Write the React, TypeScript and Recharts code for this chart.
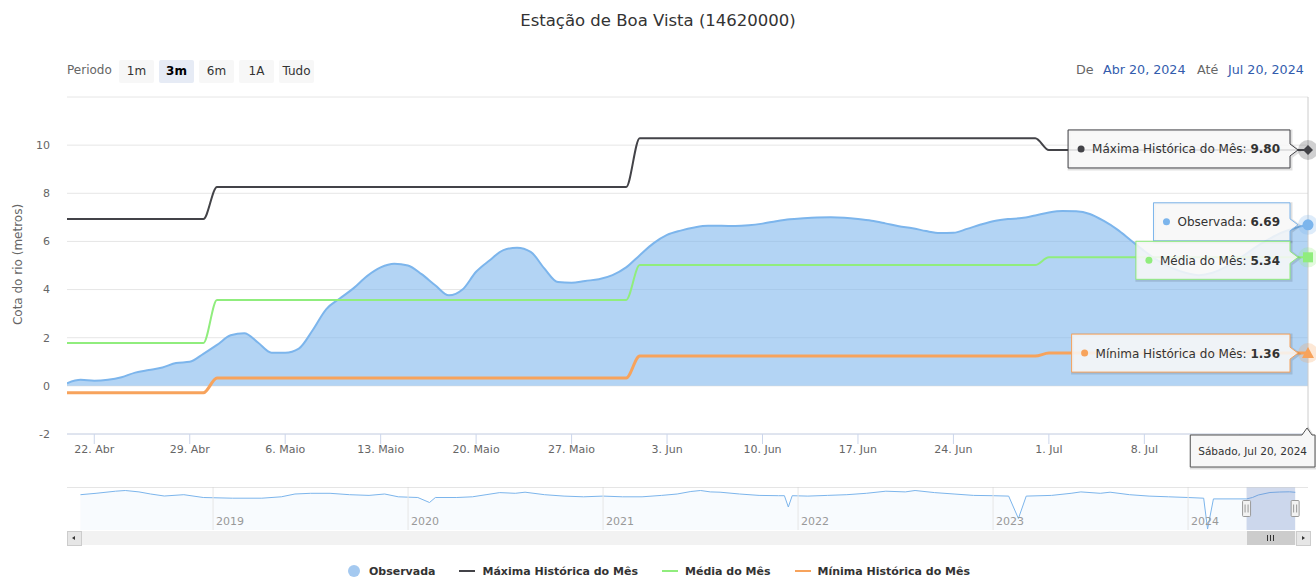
import React from 'react';
import {
  ComposedChart,
  Area,
  Line,
  XAxis,
  YAxis,
  CartesianGrid,
  ReferenceLine,
  ReferenceDot,
  ReferenceArea,
} from 'recharts';

const FONT = '"DejaVu Sans", "Lucida Grande", Arial, sans-serif';

// ---- data ----------------------------------------------------------------

// daily observed level (m), 20 Abr 2024 -> 20 Jul 2024
const observada = [
  0.11, 0.25, 0.21, 0.25, 0.36, 0.55, 0.66, 0.76, 0.95, 1.0,
  1.33, 1.7, 2.1, 2.19, 1.8, 1.38, 1.38, 1.55, 2.3, 3.18,
  3.63, 4.05, 4.56, 4.92, 5.07, 5.0, 4.64, 4.18, 3.76, 4.0,
  4.74, 5.22, 5.64, 5.74, 5.57, 4.88, 4.31, 4.28, 4.36, 4.43,
  4.6, 4.92, 5.43, 5.92, 6.27, 6.45, 6.58, 6.65, 6.65, 6.64,
  6.67, 6.74, 6.84, 6.92, 6.96, 6.99, 7.0, 6.98, 6.93, 6.86,
  6.75, 6.63, 6.55, 6.43, 6.35, 6.36, 6.52, 6.7, 6.85, 6.93,
  6.97, 7.08, 7.2, 7.26, 7.25, 7.14, 6.86, 6.5, 6.05, 5.6,
  5.2, 4.9, 4.7, 4.6, 4.7, 4.95, 5.3, 5.7, 6.05, 6.35,
  6.55, 6.69,
];

// monthly reference values: Abr, Mai, Jun, Jul
const maximaMes = [6.93, 8.26, 10.29, 9.8];
const mediaMes = [1.78, 3.57, 5.02, 5.34];
const minimaMes = [-0.29, 0.33, 1.24, 1.36];

// the 15. Jul tick sits under the date tooltip, its label is not visible
const xTickDays = [2, 9, 16, 23, 30, 37, 44, 51, 58, 65, 72, 79, 86];
const xTickLabels = [
  '22. Abr', '29. Abr', '6. Maio', '13. Maio', '20. Maio', '27. Maio',
  '3. Jun', '10. Jun', '17. Jun', '24. Jun', '1. Jul', '8. Jul', '',
];
const yTicks = [-2, 0, 2, 4, 6, 8, 10, 12];

// navigator (whole record), decimal year / level
const navAnos = [
  2018.32, 2018.4, 2018.5, 2018.55, 2018.62, 2018.68, 2018.75, 2018.85, 2018.95,
  2019.1, 2019.25, 2019.35, 2019.42, 2019.5, 2019.6, 2019.7, 2019.8, 2019.88, 2019.95,
  2020.05, 2020.11, 2020.14, 2020.25, 2020.33, 2020.4, 2020.47, 2020.55, 2020.6, 2020.7,
  2020.8, 2020.9, 2021.0, 2021.1, 2021.2, 2021.3, 2021.38, 2021.45, 2021.5, 2021.55,
  2021.6, 2021.7, 2021.8, 2021.9, 2021.93, 2021.95, 2021.97, 2022.05, 2022.15, 2022.25,
  2022.35, 2022.45, 2022.55, 2022.6, 2022.7, 2022.8, 2022.9, 2023.0, 2023.08, 2023.13,
  2023.17, 2023.3, 2023.4, 2023.45, 2023.55, 2023.6, 2023.7, 2023.8, 2023.9, 2024.0,
  2024.08, 2024.1, 2024.13, 2024.3, 2024.33, 2024.36, 2024.42, 2024.47, 2024.52, 2024.55,
];
const navCota = [
  4.3, 5.7, 7.8, 8.5, 7.1, 5.0, 3.0, 4.3, 1.5,
  0.8, 0.8, 2.2, 5.0, 5.7, 5.7, 4.3, 3.6, 5.0, 2.2,
  1.5, -3.5, 1.5, 1.5, 2.2, 4.3, 6.4, 5.7, 6.8, 4.3,
  2.9, 2.2, 2.9, 2.2, 2.2, 3.6, 5.0, 7.5, 8.5, 7.1,
  6.8, 5.0, 3.6, 3.3, 3.3, -8.0, 3.3, 2.9, 3.6, 4.3,
  5.7, 7.8, 7.1, 8.5, 6.4, 5.0, 3.6, 3.3, 2.9, -19.5,
  2.9, 3.6, 5.7, 7.1, 5.7, 6.8, 4.3, 2.9, 2.2, 1.5,
  0.8, -30.0, 0.1, 0.1, 1.5, 4.0, 6.5, 7.0, 7.2, 6.7,
];
const navYears = [2019, 2020, 2021, 2022, 2023, 2024];
const NAV_MIN = 2018.251;
const NAV_MAX = 2024.615;
const SEL_START = 2024.3;
const SEL_END = 2024.549;

const periodos = ['1m', '3m', '6m', '1A', 'Tudo'];
const periodoAtivo = '3m';

const series = [
  { key: 'obs', name: 'Observada', color: '#7cb5ec', symbol: 'circle' },
  { key: 'max', name: 'Máxima Histórica do Mês', color: '#434348', symbol: 'diamond' },
  { key: 'med', name: 'Média do Mês', color: '#90ed7d', symbol: 'square' },
  { key: 'min', name: 'Mínima Histórica do Mês', color: '#f7a35c', symbol: 'triangle' },
];
const tipOrder = ['max', 'obs', 'med', 'min'];
const tipShift: Record<string, number> = { max: -1, obs: -3, med: 3, min: 0 };

// ---- rows ------------------------------------------------------------------

const START = Date.UTC(2024, 3, 20);
const rows = observada.map((v, i) => {
  const m = new Date(START + i * 86400000).getUTCMonth() - 3;
  return { d: i, obs: v, max: maximaMes[m], med: mediaMes[m], min: minimaMes[m] };
});
const last = rows[rows.length - 1] as any;
const navRows = navAnos.map((t, i) => ({ t, v: navCota[i] }));

// ---- helpers ---------------------------------------------------------------

let ctx: CanvasRenderingContext2D | null = null;
function textW(s: string, font: string) {
  if (!ctx) ctx = document.createElement('canvas').getContext('2d');
  if (!ctx) return s.length * 7;
  ctx.font = font;
  return ctx.measureText(s).width;
}

function Marker({ cx, cy, color, symbol }: any) {
  let m: React.ReactNode = null;
  if (symbol === 'diamond') m = <path d={`M${cx},${cy - 5}L${cx + 5},${cy}L${cx},${cy + 5}L${cx - 5},${cy}Z`} fill={color} />;
  else if (symbol === 'circle') m = <circle cx={cx} cy={cy} r={5.5} fill={color} />;
  else if (symbol === 'square') m = <rect x={cx - 5} y={cy - 5} width={10} height={10} fill={color} />;
  else m = <path d={`M${cx},${cy - 6}L${cx + 6},${cy + 5}L${cx - 6},${cy + 5}Z`} fill={color} />;
  return (
    <g>
      <circle cx={cx} cy={cy} r={10} fill={color} fillOpacity={0.25} />
      {m}
    </g>
  );
}

function SeriesTip(props: any) {
  const { cx, cy, s } = props;
  if (cx == null || cy == null) return null;
  const label = s.name + ': ';
  const val = (last[s.key] as number).toFixed(2);
  const tw = textW(label, `12px ${FONT}`) + textW(val, `bold 12px ${FONT}`);
  const right = cx - 18;
  const left = right - (tw + 34);
  const mid = cy + (tipShift[s.key] || 0);
  const top = mid - 19;
  const bottom = mid + 19;
  const d = `M${left},${top}H${right}V${cy - 6}L${cx - 10},${cy}L${right},${cy + 6}V${bottom}H${left}Z`;
  return (
    <g>
      <path d={d} transform="translate(1,1)" fill="none" stroke="rgba(0,0,0,0.12)" strokeWidth={3} />
      <path d={d} fill="rgba(247,247,247,0.88)" stroke={s.color} strokeWidth={1} />
      <circle cx={left + 13} cy={mid} r={3.5} fill={s.color} />
      <text x={left + 24} y={mid + 4.5} fontSize={12} fontFamily={FONT} fill="#333">
        <tspan>{label}</tspan>
        <tspan fontWeight="bold">{val}</tspan>
      </text>
      <Marker cx={cx} cy={cy} color={s.color} symbol={s.symbol} />
    </g>
  );
}

function DateTip(props: any) {
  const { cx, cy } = props;
  if (cx == null || cy == null) return null;
  const txt = 'Sábado, Jul 20, 2024';
  const w = textW(txt, `10.5px ${FONT}`) + 16;
  const right = cx + 7;
  const left = right - w;
  const top = cy + 1;
  const bottom = cy + 33;
  const d = `M${left},${top}H${cx - 6}L${cx - 1},${top - 7}L${cx + 4},${top}H${right}V${bottom}H${left}Z`;
  return (
    <g>
      <path d={d} transform="translate(1,1)" fill="none" stroke="rgba(0,0,0,0.12)" strokeWidth={3} />
      <path d={d} fill="#f7f7f7" stroke="#555" strokeWidth={1} />
      <text x={left + 8} y={(top + bottom) / 2 + 4} fontSize={10.5} fontFamily={FONT} fill="#333">
        {txt}
      </text>
    </g>
  );
}

function Handle(props: any) {
  const { cx, cy } = props;
  if (cx == null || cy == null) return null;
  return (
    <g>
      <rect x={cx - 4} y={cy - 8} width={8} height={16} rx={1} fill="#f2f2f2" stroke="#999" />
      <line x1={cx - 1.5} x2={cx - 1.5} y1={cy - 4} y2={cy + 4} stroke="#999" />
      <line x1={cx + 1.5} x2={cx + 1.5} y1={cy - 4} y2={cy + 4} stroke="#999" />
    </g>
  );
}

function YearLabel(props: any) {
  const vb = props.viewBox || {};
  return (
    <text x={(vb.x || 0) + 3} y={(vb.y || 0) + (vb.height || 0) - 5} fontSize={11} fontFamily={FONT} fill="#999">
      {props.value}
    </text>
  );
}

function YTitle(props: any) {
  const vb = props.viewBox || {};
  const x = (vb.x || 0) + 18;
  const y = (vb.y || 0) + (vb.height || 0) / 2 - 1;
  return (
    <text x={x} y={y} transform={`rotate(-90 ${x} ${y})`} textAnchor="middle" dominantBaseline="central"
      fontSize={12} fontFamily={FONT} fill="#666">
      Cota do rio (metros)
    </text>
  );
}

const navX = (t: number) => 67 + ((t - NAV_MIN) / (NAV_MAX - NAV_MIN)) * 1241;

export default function App() {
  const byKey: Record<string, any> = {};
  series.forEach((s) => (byKey[s.key] = s));

  return (
    <div style={{ position: 'absolute', left: 0, top: 0, width: 1316, height: 577, background: '#fff', overflow: 'hidden', fontFamily: FONT }}>
      <div style={{ position: 'absolute', top: 11, left: 0, width: 1316, textAlign: 'center', fontSize: 16.5, color: '#333' }}>
        Estação de Boa Vista (14620000)
      </div>

      {/* range selector */}
      <div style={{ position: 'absolute', left: 67, top: 63, fontSize: 12, color: '#666' }}>Periodo</div>
      {periodos.map((p, i) => (
        <div key={p} style={{
          position: 'absolute', left: 119 + i * 40, top: 60, width: 35, height: 23, lineHeight: '23px',
          textAlign: 'center', fontSize: 12, borderRadius: 2,
          background: p === periodoAtivo ? '#e6ebf5' : '#f7f7f7',
          color: p === periodoAtivo ? '#000' : '#333', fontWeight: p === periodoAtivo ? 'bold' : 'normal',
        }}>{p}</div>
      ))}
      <div style={{ position: 'absolute', left: 1076, top: 62, fontSize: 12.7, color: '#666' }}>De</div>
      <div style={{ position: 'absolute', left: 1103, top: 62, fontSize: 12.7, color: '#335cad' }}>Abr 20, 2024</div>
      <div style={{ position: 'absolute', left: 1197, top: 62, fontSize: 12.7, color: '#666' }}>Até</div>
      <div style={{ position: 'absolute', left: 1228, top: 62, fontSize: 12.7, color: '#335cad' }}>Jul 20, 2024</div>

      {/* main chart */}
      <div style={{ position: 'absolute', left: 0, top: 0 }}>
        <ComposedChart width={1316} height={470} data={rows} margin={{ top: 97, right: 8, bottom: 6, left: 0 }}>
          <CartesianGrid vertical={false} stroke="#e6e6e6" />
          <XAxis
            dataKey="d" type="number" domain={[0, 91]} ticks={xTickDays} interval={0} allowDataOverflow
            tickFormatter={(v: number) => xTickLabels[xTickDays.indexOf(v)] || ''}
            height={30} tickSize={10} tickMargin={1}
            axisLine={{ stroke: '#ccd6eb' }} tickLine={{ stroke: '#ccd6eb' }}
            tick={{ fill: '#666', fontSize: 11, fontFamily: FONT }}
          />
          <YAxis
            domain={[-2, 12]} ticks={yTicks} interval={0} allowDataOverflow width={67}
            axisLine={false} tickLine={false} tickMargin={11}
            tickFormatter={(v: number) => (v === 12 ? '' : String(v))}
            tick={{ fill: '#666', fontSize: 11, fontFamily: FONT }}
            label={<YTitle />}
          />
          <ReferenceLine x={91} stroke="#cccccc" />
          <Area type="monotone" dataKey="obs" name={byKey.obs.name} stroke={byKey.obs.color} strokeWidth={2}
            fill={byKey.obs.color} fillOpacity={0.58} baseValue={0} dot={false} activeDot={false} isAnimationActive={false} />
          <Line type="monotone" dataKey="max" name={byKey.max.name} stroke={byKey.max.color} strokeWidth={2}
            dot={false} activeDot={false} isAnimationActive={false} />
          <Line type="monotone" dataKey="med" name={byKey.med.name} stroke={byKey.med.color} strokeWidth={2}
            dot={false} activeDot={false} isAnimationActive={false} />
          <Line type="monotone" dataKey="min" name={byKey.min.name} stroke={byKey.min.color} strokeWidth={3}
            dot={false} activeDot={false} isAnimationActive={false} />
          {tipOrder.map((k) => (
            <ReferenceDot key={k} x={91} y={last[k]} r={5}
              shape={(p: any) => <SeriesTip {...p} s={byKey[k]} />} />
          ))}
          <ReferenceDot x={91} y={-2} r={1} shape={(p: any) => <DateTip {...p} />} />
        </ComposedChart>
      </div>

      {/* navigator */}
      <div style={{ position: 'absolute', left: 0, top: 487 }}>
        <ComposedChart width={1316} height={43} data={navRows} margin={{ top: 0, right: 8, bottom: 0, left: 67 }}>
          <XAxis dataKey="t" type="number" domain={[NAV_MIN, NAV_MAX]} allowDataOverflow hide />
          <YAxis hide domain={[-31, 12]} allowDataOverflow />
          {navYears.map((yr) => (
            <ReferenceLine key={yr} x={yr} stroke="#e6e6e6" label={<YearLabel value={yr} />} />
          ))}
          <ReferenceLine y={12} stroke="#cccccc" />
          <Area type="linear" dataKey="v" stroke="#7cb5ec" strokeWidth={1} fill="#7cb5ec" fillOpacity={0.05}
            baseValue={-31} dot={false} activeDot={false} isAnimationActive={false} />
          <ReferenceArea x1={SEL_START} x2={SEL_END} fill="#6685c2" fillOpacity={0.3} />
          <ReferenceDot x={SEL_START} y={-9.5} r={1} shape={(p: any) => <Handle {...p} />} />
          <ReferenceDot x={SEL_END} y={-9.5} r={1} shape={(p: any) => <Handle {...p} />} />
        </ComposedChart>
      </div>

      {/* scrollbar */}
      <div style={{ position: 'absolute', left: 67, top: 531, width: 1243, height: 14, background: '#f2f2f2' }} />
      <div style={{ position: 'absolute', left: 67, top: 531, width: 13, height: 13, background: '#e6e6e6', border: '1px solid #ccc' }}>
        <div style={{ position: 'absolute', left: 4, top: 4, width: 0, height: 0, borderTop: '2.5px solid transparent', borderBottom: '2.5px solid transparent', borderRight: '3px solid #333' }} />
      </div>
      <div style={{ position: 'absolute', left: 1296, top: 531, width: 13, height: 13, background: '#e6e6e6', border: '1px solid #ccc' }}>
        <div style={{ position: 'absolute', left: 5, top: 4, width: 0, height: 0, borderTop: '2.5px solid transparent', borderBottom: '2.5px solid transparent', borderLeft: '3px solid #333' }} />
      </div>
      <div style={{
        position: 'absolute', left: navX(SEL_START), top: 531, width: navX(SEL_END) - navX(SEL_START), height: 14,
        background: '#cccccc', display: 'flex', alignItems: 'center', justifyContent: 'center', gap: 2,
      }}>
        {[0, 1, 2].map((i) => <div key={i} style={{ width: 1, height: 6, background: '#333' }} />)}
      </div>

      {/* legend */}
      <div style={{ position: 'absolute', left: 0, top: 563, width: 1316, height: 16, display: 'flex', justifyContent: 'center', alignItems: 'center', gap: 24 }}>
        {series.map((s) => (
          <div key={s.key} style={{ display: 'flex', alignItems: 'center' }}>
            {s.symbol === 'circle' ? (
              <div style={{ width: 16, height: 12, display: 'flex', justifyContent: 'center', marginRight: 7 }}>
                <div style={{ width: 12, height: 12, borderRadius: 6, background: '#a4c9f0' }} />
              </div>
            ) : (
              <div style={{ width: 16, height: 2, background: s.color, marginRight: 7 }} />
            )}
            <span style={{ fontSize: 11, fontWeight: 'bold', color: '#333' }}>{s.name}</span>
          </div>
        ))}
      </div>
    </div>
  );
}
